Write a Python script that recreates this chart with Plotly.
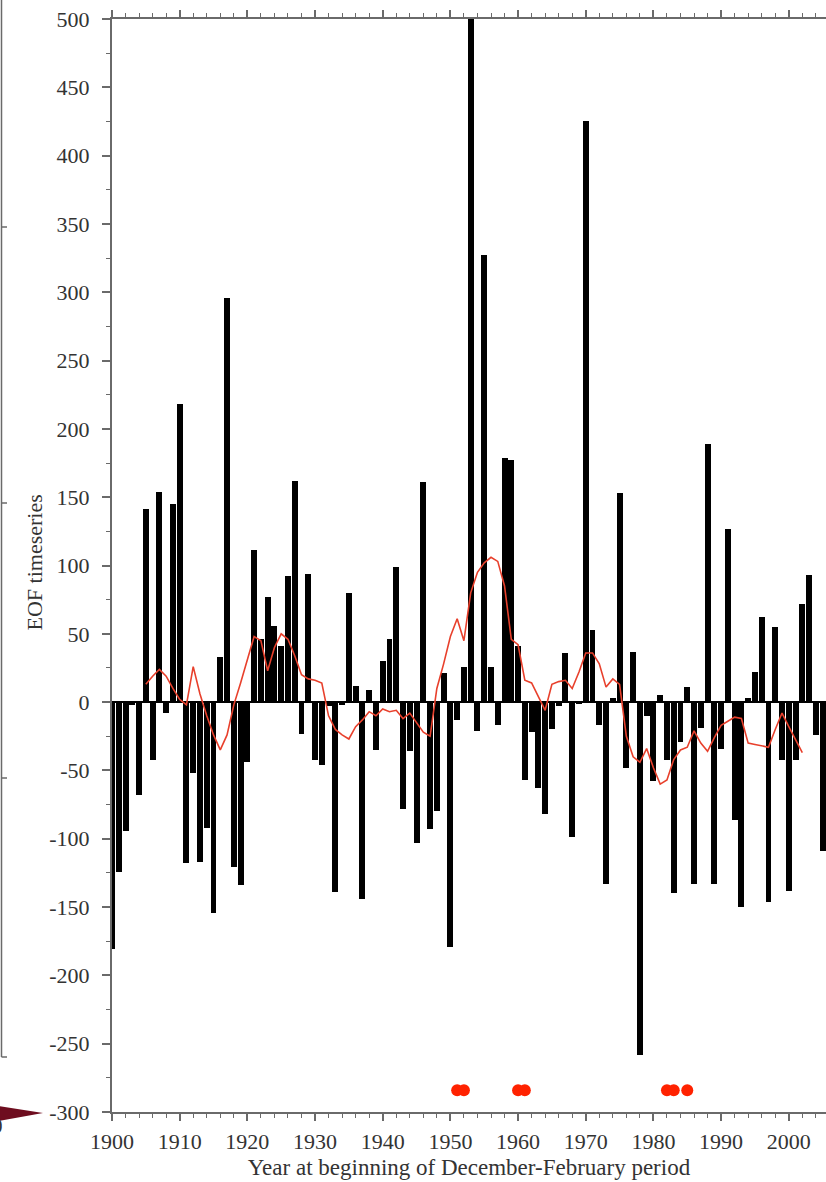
import plotly.graph_objects as go

# ---- data ----
years = list(range(1900, 2006))
eof_values = [
    -181, -124, -94, -2, -68, 141, -42, 154, -8, 145,      # 1900-1909
    218, -118, -52, -117, -92, -154, 33, 296, -121, -134,  # 1910-1919
    -44, 111, 46, 77, 56, 41, 92, 162, -23, 94,            # 1920-1929
    -42, -46, -3, -139, -2, 80, 12, -144, 9, -35,          # 1930-1939
    30, 46, 99, -78, -36, -103, 161, -93, -80, 21,         # 1940-1949
    -179, -13, 26, 500, -21, 327, 26, -17, 179, 177,       # 1950-1959
    41, -57, -22, -63, -82, -20, -3, 36, -99, -1,          # 1960-1969
    425, 53, -17, -133, 3, 153, -48, 37, -258, -10,        # 1970-1979
    -58, 5, -42, -140, -29, 11, -133, -19, 189, -133,      # 1980-1989
    -34, 127, -86, -150, 3, 22, 62, -146, 55, -42,         # 1990-1999
    -138, -42, 72, 93, -24, -109,                          # 2000-2005
]

smooth_years = list(range(1905, 2003))
smooth_values = [
    13, 19, 24, 19, 10,                 # 1905-1909
    2, -2, 26, 6, -10, -24, -35, -24, -2, 14,   # 1910-1919
    32, 48, 45, 23, 40, 50, 46, 34, 20, 17,     # 1920-1929
    16, 14, -10, -20, -24, -27, -18, -13, -7, -10,  # 1930-1939
    -5, -7, -6, -12, -8, -15, -22, -25, 10, 28,     # 1940-1949
    48, 61, 45, 80, 95, 102, 106, 103, 85, 46,      # 1950-1959
    42, 16, 14, 4, -6, 13, 15, 16, 10, 22,          # 1960-1969
    36, 36, 28, 11, 17, 13, -25, -40, -44, -34,     # 1970-1979
    -48, -60, -57, -42, -35, -33, -21, -30, -36, -26,  # 1980-1989
    -17, -14, -11, -12, -30, -31, -32, -33, -20, -8,   # 1990-1999
    -18, -28, -37,                                     # 2000-2002
]

event_years = [1951, 1952, 1960, 1961, 1982, 1983, 1985]
event_level = [-284] * len(event_years)

x_tick_vals = list(range(1900, 2001, 10))
x_tick_text = [str(v) for v in x_tick_vals]
y_tick_vals = list(range(-300, 501, 50))
y_tick_text = [str(v) for v in y_tick_vals]   # plain hyphen minus, as in the reference

FONT = "Liberation Serif"
AXIS_GREY = "#6a6a6a"
TXT = "#333333"

fig = go.Figure()
fig.add_trace(go.Bar(
    x=years, y=eof_values, width=0.88,
    marker=dict(color="black", line=dict(width=0)),
    showlegend=False,
))
fig.add_trace(go.Scatter(
    x=smooth_years, y=smooth_values, mode="lines",
    line=dict(color="#e8402c", width=1.6),
    showlegend=False,
))
fig.add_trace(go.Scatter(
    x=event_years, y=event_level, mode="markers",
    marker=dict(color="#ff2200", size=12, line=dict(width=0)),
    showlegend=False, cliponaxis=False,
))
# invisible trace so the top (mirror) axis with minor ticks is drawn
fig.add_trace(go.Scatter(
    x=[years[0], years[-1]], y=[0, 0], xaxis="x2", mode="markers",
    marker=dict(opacity=0), hoverinfo="skip", showlegend=False,
))

W, H = 826, 1182
L, R, T, B = 112, 0, 19, 70
pw, ph = W - L - R, H - T - B

def px(x):
    return (x - L) / pw

def py(y):
    return (H - B - y) / ph

shapes = []
# remnant of neighbouring panel on the left (axis line with ticks)
shapes.append(dict(type="line", xref="paper", yref="paper",
                   x0=px(1.5), x1=px(1.5), y0=py(-5), y1=py(1057),
                   line=dict(color=AXIS_GREY, width=1.5)))
for ty in [227, 503, 778, 1057]:
    shapes.append(dict(type="line", xref="paper", yref="paper",
                       x0=px(1.5), x1=px(7), y0=py(ty), y1=py(ty),
                       line=dict(color=AXIS_GREY, width=1.5)))
# dark red colour-bar tip remnant
shapes.append(dict(type="path", xref="paper", yref="paper",
                   path=f"M {px(-2)},{py(1106)} L {px(43)},{py(1113)} L {px(-2)},{py(1121)} Z",
                   fillcolor="#6e0d1f", line=dict(width=0)))

annotations = [
    dict(text="EOF timeseries", textangle=-90, xref="paper", yref="paper",
         x=px(19), y=py(563), showarrow=False,
         font=dict(family=FONT, size=22, color=TXT)),
    dict(text="0", xref="paper", yref="paper", x=px(5), y=py(1140),
         xanchor="right", showarrow=False,
         font=dict(family=FONT, size=21, color=TXT)),
]

fig.update_layout(
    width=W, height=H,
    margin=dict(l=L, r=R, t=T, b=B, pad=0),
    paper_bgcolor="white", plot_bgcolor="white",
    bargap=0,
    shapes=shapes, annotations=annotations,
    font=dict(family=FONT, size=21, color=TXT),
    xaxis=dict(
        range=[1900, 2005.5], tickmode="array", tickvals=x_tick_vals, ticktext=x_tick_text,
        ticks="outside", ticklen=7, tickwidth=1.5, tickcolor=AXIS_GREY,
        minor=dict(dtick=2, tick0=1900, ticks="outside", ticklen=4, tickwidth=1.2, tickcolor=AXIS_GREY),
        showline=True, linecolor=AXIS_GREY, linewidth=2, mirror=False,
        showgrid=False, zeroline=False,
        tickfont=dict(family=FONT, size=22, color=TXT),
        ticklabelstandoff=2,
        title=dict(text="Year at beginning of December-February period",
                   font=dict(family=FONT, size=23, color=TXT), standoff=5),
    ),
    xaxis2=dict(
        overlaying="x", side="top", matches="x", anchor="y",
        range=[1900, 2005.5], tickmode="array", tickvals=x_tick_vals,
        showticklabels=False,
        ticks="outside", ticklen=7, tickwidth=1.5, tickcolor=AXIS_GREY,
        minor=dict(dtick=2, tick0=1900, ticks="outside", ticklen=4, tickwidth=1.2, tickcolor=AXIS_GREY),
        showline=True, linecolor=AXIS_GREY, linewidth=2,
        showgrid=False, zeroline=False,
    ),
    yaxis=dict(
        range=[-300, 500], tickmode="array", tickvals=y_tick_vals, ticktext=y_tick_text,
        ticks="outside", ticklen=8, tickwidth=1.5, tickcolor=AXIS_GREY,
        minor=dict(dtick=25, tick0=0, ticks="outside", ticklen=4, tickwidth=1.2, tickcolor=AXIS_GREY),
        showline=True, linecolor=AXIS_GREY, linewidth=2, mirror=False,
        showgrid=False, zeroline=True, zerolinecolor="black", zerolinewidth=2,
        tickfont=dict(family=FONT, size=22, color=TXT),
        ticklabelstandoff=8,
    ),
)

fig.write_html("out.html")
